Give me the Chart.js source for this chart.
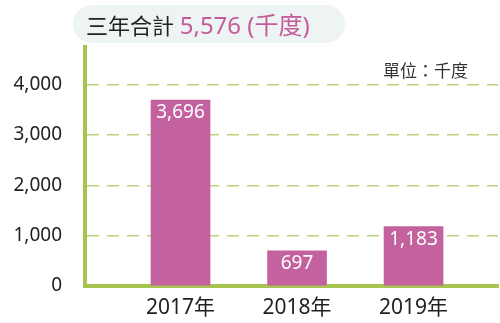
<!DOCTYPE html>
<html>
<head>
<meta charset="utf-8">
<script src="https://cdn.jsdelivr.net/npm/chart.js@4"></script>
<style>
  html, body { margin: 0; padding: 0; background: #fff; }
  #wrap { position: relative; width: 500px; height: 323px; font-family: "Noto Sans", "Noto Sans CJK TC", sans-serif; }
  #total {
    position: absolute; left: 73px; top: 5px; width: 272px; height: 38px;
    border-radius: 19px; background: #eef3f3; box-sizing: border-box;
    padding-left: 13px; font-size: 22px; line-height: 40px; color: #222; white-space: nowrap;
  }
  #total span { color: #c45c9c; font-size: 24px; }
  #unit { position: absolute; left: 383px; top: 57px; font-size: 17px; color: #333; }
</style>
</head>
<body>
<div id="wrap">
  <canvas id="chart" width="500" height="323"></canvas>
  <div id="total">三年合計 <span id="sum"></span></div>
  <div id="unit">單位：千度</div>
</div>
<script>
const years = ['2017年', '2018年', '2019年'];
const values = [3696, 697, 1183];
const yTicks = [0, 1000, 2000, 3000, 4000];

const fmt = v => v.toLocaleString('en-US');
const font = '"Noto Sans", "Noto Sans CJK TC", sans-serif';

document.getElementById('sum').textContent =
    fmt(values.reduce((a, b) => a + b, 0)) + ' (千度)';

// white value labels inside the top of each bar
const barLabels = {
    id: 'barLabels',
    afterDatasetsDraw(chart) {
        const ctx = chart.ctx;
        const meta = chart.getDatasetMeta(0);
        ctx.save();
        ctx.fillStyle = '#fff';
        ctx.font = '19px ' + font;
        ctx.textAlign = 'center';
        ctx.textBaseline = 'middle';
        meta.data.forEach((bar, i) => {
            ctx.fillText(fmt(values[i]), bar.x, bar.y + 13);
        });
        ctx.restore();
    }
};

new Chart(document.getElementById('chart'), {
    type: 'bar',
    data: {
        datasets: [{
            data: values.map((v, i) => ({ x: i + 1, y: v })),
            backgroundColor: '#c4629f',
            barThickness: 59
        }]
    },
    options: {
        responsive: false,
        animation: false,
        layout: { padding: { top: 47, right: 2, left: 0, bottom: 0 } },
        plugins: { legend: { display: false }, tooltip: { enabled: false } },
        scales: {
            x: {
                type: 'linear',
                offset: false,
                min: 0.18,
                max: 3.725,
                afterBuildTicks: s => { s.ticks = years.map((_, i) => ({ value: i + 1 })); },
                afterFit: s => { s.height = 37; },
                grid: { display: false, drawTicks: false },
                border: { display: true, color: '#a8c450', width: 4 },
                ticks: {
                    padding: 9,
                    color: '#222',
                    font: { family: font, size: 21 },
                    callback: v => years[v - 1]
                }
            },
            y: {
                min: 0,
                max: 4750,
                afterBuildTicks: s => { s.ticks = yTicks.map(v => ({ value: v })); },
                afterFit: s => { s.width = 85; },
                grid: {
                    drawTicks: false,
                    color: ctx => ctx.tick && ctx.tick.value === 0 ? 'rgba(0,0,0,0)' : '#bcd27a',
                    lineWidth: 1.5
                },
                border: { display: true, color: '#a8c450', width: 4, dash: [12, 8] },
                ticks: {
                    padding: 23,
                    color: '#222',
                    font: { family: font, size: 19 },
                    callback: v => fmt(v)
                }
            }
        }
    },
    plugins: [barLabels]
});
</script>
</body>
</html>
